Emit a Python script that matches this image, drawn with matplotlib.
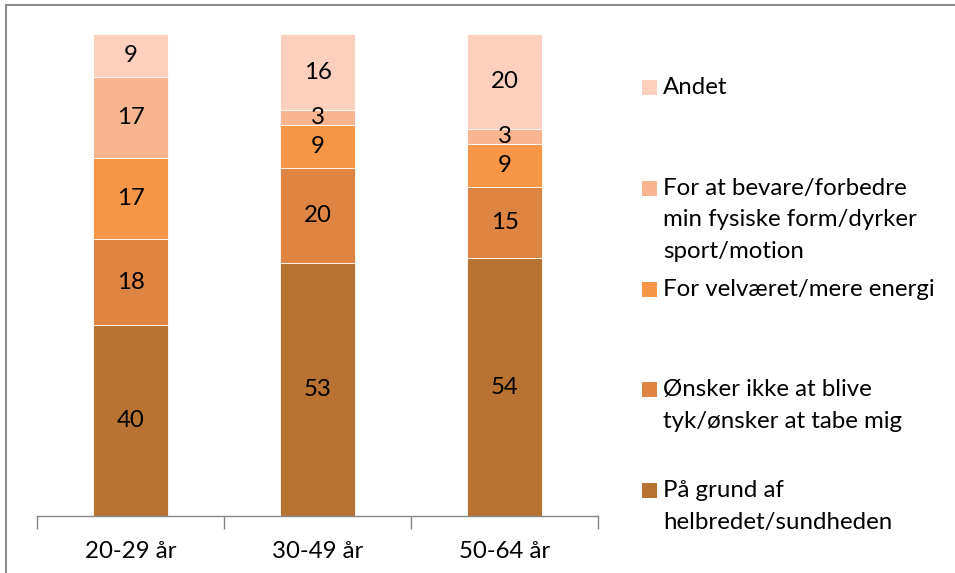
import matplotlib
matplotlib.use("Agg")
import matplotlib.pyplot as plt
from matplotlib.patches import Rectangle
import numpy as np

plt.rcParams['font.family'] = ['Lato', 'DejaVu Sans']

categories = ["20-29 år", "30-49 år", "50-64 år"]
series_names = [
    "På grund af\nhelbredet/sundheden",
    "Ønsker ikke at blive\ntyk/ønsker at tabe mig",
    "For velværet/mere energi",
    "For at bevare/forbedre\nmin fysiske form/dyrker\nsport/motion",
    "Andet",
]
helbred = [40, 53, 54]
tabe = [18, 20, 15]
velvaer = [17, 9, 9]
form = [17, 3, 3]
andet = [9, 16, 20]
values = [helbred, tabe, velvaer, form, andet]
colors = ["#B87333", "#DF8543", "#F79646", "#F9B58F", "#FCD0BC"]

W, H = 955, 573
fig = plt.figure(figsize=(W / 100, H / 100), dpi=100)

def px(x0, y0, x1, y1):
    return [x0 / W, 1 - y1 / H, (x1 - x0) / W, (y1 - y0) / H]

# outer frame
fig.patches.append(Rectangle((6 / W, -0.1), 1.2, 1 - 5 / H + 0.1, transform=fig.transFigure,
                             fill=False, edgecolor="#8C8C8C", linewidth=1.5))

ax = fig.add_axes(px(37, 34, 598, 516))
x = np.arange(len(categories))
bottom = np.zeros(len(categories))
fs = 17.3
for vals, col in zip(values, colors):
    vals = np.array(vals, dtype=float)
    ax.bar(x, vals, 0.396, bottom=bottom, color=col, edgecolor="white", linewidth=0.6)
    for xi, b, v in zip(x, bottom, vals):
        ax.text(xi, b + v / 2, f"{int(v)}", ha="center", va="center", fontsize=fs, color="black")
    bottom += vals

ax.set_xlim(-0.5, len(categories) - 0.5)
ax.set_ylim(0, bottom.max())
for s in ["top", "right", "left"]:
    ax.spines[s].set_visible(False)
ax.spines["bottom"].set_color("#868686")
ax.spines["bottom"].set_linewidth(1.0)
ax.set_yticks([])
ax.set_xticks(np.arange(len(categories) + 1) - 0.5)
ax.set_xticklabels([])
ax.tick_params(axis="x", which="major", length=9, color="#868686", width=1.0)
ax.set_xticks(x, minor=True)
ax.set_xticklabels(categories, minor=True, fontsize=fs)
ax.tick_params(axis="x", which="minor", length=0, pad=18)

# legend (top entry first)
leg_y0 = 87
leg_step = 100.8
for i, (name, col) in enumerate(zip(series_names[::-1], colors[::-1])):
    yc = leg_y0 + i * leg_step
    fig.patches.append(Rectangle((642 / W, 1 - (yc + 8) / H), 15 / W, 15 / H,
                                 transform=fig.transFigure, facecolor=col, edgecolor="none"))
    fig.text(663 / W, 1 - (yc - 10) / H, name, ha="left", va="top", fontsize=fs,
             linespacing=1.62, color="black")

fig.savefig("out.png", dpi=100)
